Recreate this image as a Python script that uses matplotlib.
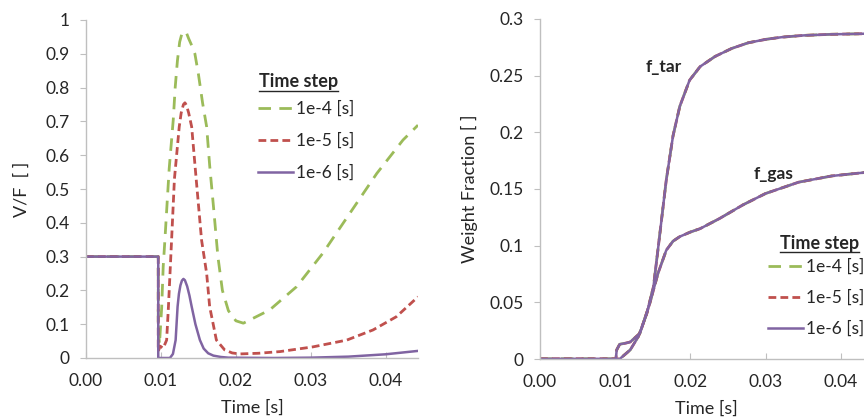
import matplotlib.pyplot as plt
from matplotlib.lines import Line2D
from matplotlib.ticker import FixedLocator, FormatStrFormatter

plt.rcParams['font.family'] = ['Lato', 'DejaVu Sans']

# --- left panel: V/F vs time for three time steps ---
t_1e4 = [0, 0.00964, 0.00964, 0.0098, 0.0101, 0.0103, 0.01053, 0.0108, 0.0111, 0.01164, 0.0119,
         0.0122, 0.0125, 0.0128, 0.0131, 0.0134, 0.0137, 0.0141, 0.01453, 0.0150, 0.01556, 0.0161,
         0.0165, 0.0170, 0.0176, 0.0182, 0.0190, 0.0200, 0.0210, 0.0245, 0.0281, 0.0316, 0.0352,
         0.0388, 0.0423, 0.0443]
vf_1e4 = [0.30, 0.30, 0.10, 0.04, 0.15, 0.27, 0.35, 0.45, 0.56, 0.704, 0.80,
          0.88, 0.935, 0.96, 0.967, 0.962, 0.945, 0.925, 0.90, 0.84, 0.754, 0.684,
          0.57, 0.45, 0.30, 0.20, 0.14, 0.11, 0.103, 0.142, 0.211, 0.31, 0.428,
          0.546, 0.645, 0.689]

t_1e5 = [0, 0.00964, 0.00964, 0.0099, 0.0103, 0.01076, 0.0110, 0.01142, 0.0118, 0.01244, 0.0127,
         0.0130, 0.0132, 0.0134, 0.0137, 0.0141, 0.0147, 0.01542, 0.0161, 0.0165, 0.0174, 0.0185,
         0.0195, 0.0205, 0.0230, 0.0259, 0.0303, 0.0348, 0.0383, 0.0414, 0.0443]
vf_1e5 = [0.30, 0.30, 0.02, 0.035, 0.029, 0.053, 0.152, 0.349, 0.53, 0.684, 0.725,
          0.750, 0.755, 0.748, 0.725, 0.684, 0.53, 0.349, 0.25, 0.152, 0.053, 0.024,
          0.015, 0.012, 0.014, 0.019, 0.033, 0.053, 0.083, 0.122, 0.181]

t_1e6 = [0, 0.00964, 0.00964, 0.0112, 0.0116, 0.01196, 0.01222, 0.0124, 0.0126, 0.0128, 0.0130,
         0.0132, 0.0135, 0.0138, 0.0141, 0.0146, 0.0152, 0.0157, 0.0163, 0.0170, 0.0180, 0.0190,
         0.0250, 0.0300, 0.0350, 0.0400, 0.0443]
vf_1e6 = [0.30, 0.30, 0.0, 0.0, 0.012, 0.053, 0.152, 0.19, 0.215, 0.229, 0.234,
          0.230, 0.212, 0.185, 0.152, 0.10, 0.053, 0.028, 0.014, 0.007, 0.003, 0.001,
          0.0, 0.001, 0.004, 0.011, 0.021]

# --- right panel: weight fractions (all three time steps coincide) ---
t_tar = [0, 0.0106, 0.0120, 0.0131, 0.0142, 0.0151, 0.0159, 0.0168, 0.0177, 0.0186, 0.0199,
         0.0213, 0.0233, 0.0255, 0.0277, 0.0300, 0.0322, 0.0350, 0.0388, 0.0431, 0.0445]
f_tar = [0, 0, 0.008, 0.02, 0.04, 0.064, 0.108, 0.158, 0.197, 0.223, 0.246,
         0.258, 0.267, 0.274, 0.279, 0.282, 0.284, 0.2855, 0.2865, 0.287, 0.287]

t_gas = [0, 0.0101, 0.0102, 0.0106, 0.0114, 0.0120, 0.0133, 0.0146, 0.0157, 0.0168, 0.0177,
         0.0186, 0.0200, 0.0213, 0.0239, 0.0270, 0.0300, 0.0344, 0.0388, 0.0431, 0.0445]
f_gas = [0, 0, 0.008, 0.013, 0.014, 0.015, 0.0227, 0.049, 0.0756, 0.096, 0.104,
         0.108, 0.112, 0.115, 0.124, 0.136, 0.146, 0.156, 0.1615, 0.1645, 0.165]

labels = ['1e-4 [s]', '1e-5 [s]', '1e-6 [s]']
colors = ['#9BBB59', '#C0504D', '#8064A2']
x_ticks = [0.0, 0.01, 0.02, 0.03, 0.04]
left_yticks = [0, 0.1, 0.2, 0.3, 0.4, 0.5, 0.6, 0.7, 0.8, 0.9, 1]
left_ylabels = ['0', '0.1', '0.2', '0.3', '0.4', '0.5', '0.6', '0.7', '0.8', '0.9', '1']
right_yticks = [0, 0.05, 0.1, 0.15, 0.2, 0.25, 0.3]
right_ylabels = ['0', '0.05', '0.1', '0.15', '0.2', '0.25', '0.3']

W, H = 864, 418
fig = plt.figure(figsize=(8.64, 4.18), dpi=100)
ax1 = fig.add_axes([86 / W, 1 - 358 / H, 332 / W, 338 / H])
ax2 = fig.add_axes([540 / W, 1 - 359 / H, 333 / W, 340 / H])

styles = [dict(dashes=(4.5, 3.0)), dict(dashes=(2.8, 1.5)), dict(linestyle='-')]
lw = [2.0, 2.0, 1.8]

text_col = '#262626'
grey = '#bfbfbf'
fs = 12.5


def style_axes(ax):
    for s in ['top', 'right']:
        ax.spines[s].set_visible(False)
    for s in ['left', 'bottom']:
        ax.spines[s].set_color(grey)
        ax.spines[s].set_linewidth(1.0)
    ax.tick_params(axis='y', direction='out', length=4, color=grey, labelsize=fs,
                   labelcolor=text_col, pad=8)
    ax.tick_params(axis='x', direction='in', length=4, color=grey, labelsize=fs,
                   labelcolor=text_col, pad=10.5)
    ax.set_xlim(0, 0.0443)
    ax.xaxis.set_major_locator(FixedLocator(x_ticks))
    ax.xaxis.set_major_formatter(FormatStrFormatter('%.2f'))
    ax.set_xlabel('Time [s]', fontsize=13, color=text_col, labelpad=8)


# left panel
series = [(t_1e4, vf_1e4), (t_1e5, vf_1e5), (t_1e6, vf_1e6)]
handles = []
for (t, v), c, st, w, lab in zip(series, colors, styles, lw, labels):
    ln, = ax1.plot(t, v, color=c, lw=w, label=lab, **st)
    handles.append(ln)
style_axes(ax1)
ax1.set_ylim(0, 1)
ax1.set_yticks(left_yticks)
ax1.set_yticklabels(left_ylabels)
ax1.set_ylabel('V/F  [ ]', fontsize=13, color=text_col, labelpad=11)

leg1 = ax1.legend(handles=handles, loc='upper left', bbox_to_anchor=(258 / W, 1 - 101 / H),
                  bbox_transform=fig.transFigure, frameon=False, fontsize=fs,
                  handlelength=2.0, handletextpad=0.2, labelspacing=0.9, borderpad=0,
                  borderaxespad=0)
for txt in leg1.get_texts():
    txt.set_color(text_col)

# right panel
for c, st, w in zip(colors, styles, lw):
    ax2.plot(t_tar, f_tar, color=c, lw=w, **st)
    ax2.plot(t_gas, f_gas, color=c, lw=w, **st)
style_axes(ax2)
ax2.set_ylim(0, 0.3)
ax2.set_yticks(right_yticks)
ax2.set_yticklabels(right_ylabels)
ax2.set_ylabel('Weight Fraction [ ]', fontsize=13, color=text_col, labelpad=8)
ax2.text(0.0164, 0.258, 'f_tar', fontsize=fs, fontweight='bold', color=text_col,
         ha='center', va='center')
ax2.text(0.0311, 0.163, 'f_gas', fontsize=fs, fontweight='bold', color=text_col,
         ha='center', va='center')

leg2 = ax2.legend(handles=handles, loc='upper left', bbox_to_anchor=(768 / W, 1 - 259 / H),
                  bbox_transform=fig.transFigure, frameon=False, fontsize=fs,
                  handlelength=2.0, handletextpad=0.2, labelspacing=0.85, borderpad=0,
                  borderaxespad=0)
for txt in leg2.get_texts():
    txt.set_color(text_col)

# underlined legend titles
titles = [fig.text(259 / W, 1 - 82 / H, 'Time step', fontsize=13, fontweight='bold',
                   color=text_col, va='center', ha='left'),
          fig.text(780 / W, 1 - 243 / H, 'Time step', fontsize=13, fontweight='bold',
                   color=text_col, va='center', ha='left')]
fig.canvas.draw()
r = fig.canvas.get_renderer()
for tt in titles:
    bb = tt.get_window_extent(r).transformed(fig.transFigure.inverted())
    fig.add_artist(Line2D([bb.x0, bb.x1], [bb.y0 - 0.002, bb.y0 - 0.002],
                          transform=fig.transFigure, color=text_col, lw=1.0))

fig.savefig('out.png', dpi=100)
